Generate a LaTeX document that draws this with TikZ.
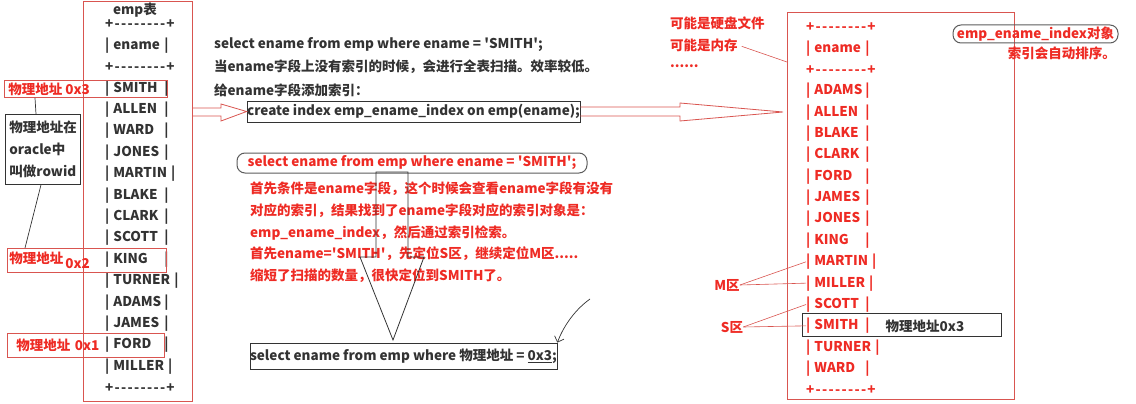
\documentclass[tikz,border=0pt]{standalone}
\usepackage{fontspec}
\setmainfont{Noto Sans CJK SC}
\usepackage{tikz}
\usetikzlibrary{arrows.meta,calc}
\definecolor{notered}{HTML}{EE2B24}
\definecolor{boxred}{HTML}{D95550}
\definecolor{inkgray}{HTML}{333333}
\newcommand{\dashrow}{+\kern1.3pt-\kern1.3pt-\kern1.3pt-\kern1.3pt-\kern1.3pt-\kern1.3pt-\kern1.3pt-\kern1.3pt-\kern1.3pt+}
\newcommand{\tabcell}[1]{|\hspace{4pt}\setbox0=\hbox{#1}\ifdim\wd0<48pt\hbox to 48pt{#1\hfil}\else\box0\hspace{1pt}\fi\hspace{3pt}|}
\newcommand{\squote}{\textquotesingle}

\begin{document}
\begin{tikzpicture}[
  x=1pt, y=-1pt,
  txt/.style={anchor=west, inner sep=0pt, font=\fontsize{13.5}{16}\selectfont\bfseries, text=inkgray},
  redtxt/.style={txt, text=notered},
  frame/.style={draw=boxred, line width=0.9pt, inner sep=0pt, anchor=north west},
  darkframe/.style={draw=inkgray, line width=0.8pt},
  oval/.style={draw=inkgray!80, line width=1pt, rounded corners=8pt},
  hollow/.style={draw=boxred, line width=0.8pt}
]
  \useasboundingbox (0,0) rectangle (1136,404);

  % emp table
  \node[frame, minimum width=109pt, minimum height=400pt] (empbox) at (83,1) {};
  \node[txt, anchor=center] (emptitle) at (135,10) {emp表};
  \node[txt] (emptop) at (105,24) {\dashrow};
  \node[txt] (emp-ename) at (105,45.4) {\tabcell{ename}};
  \node[txt] (empmid) at (105,66.8) {\dashrow};
  \foreach \name [count=\i from 0] in {SMITH,ALLEN,WARD,JONES,MARTIN,BLAKE,CLARK,SCOTT,KING,TURNER,ADAMS,JAMES,FORD,MILLER}
    \node[txt] (emp-\name) at (105,88.2+21.4*\i) {\tabcell{\name}};
  \node[txt] (empbot) at (105,388) {\dashrow};

  % physical addresses
  \node[frame, text=notered, font=\fontsize{13.5}{16}\selectfont\bfseries, text width=155pt, inner xsep=4pt, minimum height=17pt] (pbox3) at (4,80) {物理地址\hspace{3pt}0x3};
  \node[frame, text=notered, font=\fontsize{13.5}{16}\selectfont\bfseries, text width=155pt, inner xsep=2pt, minimum height=24pt] (pbox2) at (7,248) {物理地址\hspace{2pt}\raisebox{-5pt}{0x2}};
  \node[frame, text=notered, font=\fontsize{13.5}{16}\selectfont\bfseries, text width=149pt, inner xsep=4pt, minimum height=24pt] (pbox1) at (7,333) {\hspace{5pt}物理地址 0x1};
  \node[darkframe, anchor=north west, minimum width=75pt, minimum height=70pt, text width=67pt, inner xsep=4pt, align=left, text=inkgray, font=\fontsize{13.5}{22}\selectfont\bfseries] (rowid) at (5,114) {物理地址在\\oracle中\\叫做rowid};
  \draw[inkgray, line width=0.7pt] ($(pbox3.south west)+(31,0)$) -- ($(rowid.north west)+(31,0)$);
  \draw[inkgray, line width=0.7pt] ($(rowid.south west)+(36,0)$) -- ($(pbox2.north west)+(18,0)$);

  % query without index
  \node[txt] (q-select) at (214,45) {select ename from emp where ename = \squote SMITH\squote;};
  \node[txt] (q-noindex) at (214,67) {当ename字段上没有索引的时候，会进行全表扫描。效率较低。};
  \node[txt] (q-add) at (214,90) {给ename字段添加索引：};
  \node[darkframe, txt, anchor=center, minimum width=327pt, minimum height=21pt] (create) at (413.5,111.5) {create index emp\_ename\_index on emp(ename);};
  \draw[hollow] (empbox.east |- 0,108) -- (221,108) -- (221,104) -- (create.west) -- (221,121) -- (221,116) -- (empbox.east |- 0,116);
  \coordinate (idxtip) at (783,112);
  \draw[hollow] (create.east |- 0,107) -- (680,107) -- (680,103) -- (idxtip) -- (680,121) -- (680,116) -- (create.east |- 0,116);

  % query with index
  \node[oval, redtxt, anchor=center, minimum width=350pt, minimum height=20pt] (q-red) at (412,163) {select ename from emp where ename = \squote SMITH\squote;};
  \node[redtxt, anchor=north west, align=left, font=\fontsize{13.5}{21.6}\selectfont\bfseries] (steps) at (250,182) {首先条件是ename字段，这个时候会查看ename字段有没有\\对应的索引，结果找到了ename字段对应的索引对象是：\\emp\_ename\_index，然后通过索引检索。\\首先ename=\squote SMITH\squote，先定位S区，继续定位M区.....\\缩短了扫描的数量，很快定位到SMITH了。};
  \draw[inkgray, line width=0.8pt] (376,172) -- (376,257) -- (360,257) -- (393,340) -- (424,257) -- (408,257) -- (408,172) -- cycle;
  \node[darkframe, txt, anchor=center, minimum width=305pt, minimum height=26pt] (lookup) at (403.5,356) {select ename from emp where 物理地址 = \underline{0x3};};
  \coordinate (pen) at (590,299);
  \draw[inkgray, line width=0.7pt, -{Straight Barb[angle=90:7pt]}] (pen) .. controls (572,312) and (562,330) .. (lookup.north east);

  % index object
  \node[redtxt] (disk) at (670,23) {可能是硬盘文件};
  \node[redtxt] (mem) at (670,45) {可能是内存};
  \node[redtxt] (more) at (670,66) {......};
  \node[frame, minimum width=227pt, minimum height=387pt] (idxbox) at (787,12) {};
  \coordinate (memend) at (787,62);
  \draw[boxred, line width=0.6pt, shorten <=4pt] (mem.east) -- (memend);
  \node[redtxt] (idxtop) at (806,27) {\dashrow};
  \node[redtxt] (idx-ename) at (806,48.3) {\tabcell{ename}};
  \node[redtxt] (idxmid) at (806,69.7) {\dashrow};
  \foreach \name [count=\i from 0] in {ADAMS,ALLEN,BLAKE,CLARK,FORD,JAMES,JONES,KING,MARTIN,MILLER,SCOTT,SMITH,TURNER,WARD}
    \node[redtxt] (idx-\name) at (806,91+21.35*\i) {\tabcell{\name}};
  \node[redtxt] (idxbot) at (806,390) {\dashrow};
  \node[darkframe, anchor=north west, minimum width=199pt, minimum height=23pt, inner sep=0pt] (smithbox) at (802,313) {};
  \node[txt, anchor=center] (addr) at (925,326) {物理地址0x3};

  % zones
  \node[redtxt, anchor=center] (mzone) at (727,285) {M区};
  \node[redtxt, anchor=center] (szone) at (732,327) {S区};
  \draw[boxred, line width=0.6pt] (mzone.east) -- (idx-MARTIN.west);
  \draw[boxred, line width=0.6pt] (mzone.east) -- (idx-MILLER.west);
  \draw[boxred, line width=0.6pt] (szone.east) -- (idx-SCOTT.west);
  \draw[boxred, line width=0.6pt] (szone.east) -- (idx-SMITH.west);

  % annotation
  \node[oval, redtxt, anchor=center, minimum width=165pt, minimum height=18pt] (idxname) at (1035.5,34) {emp\_ename\_index对象};
  \node[redtxt, anchor=east] (sorted) at (1116,53) {索引会自动排序。};
\end{tikzpicture}
\end{document}
